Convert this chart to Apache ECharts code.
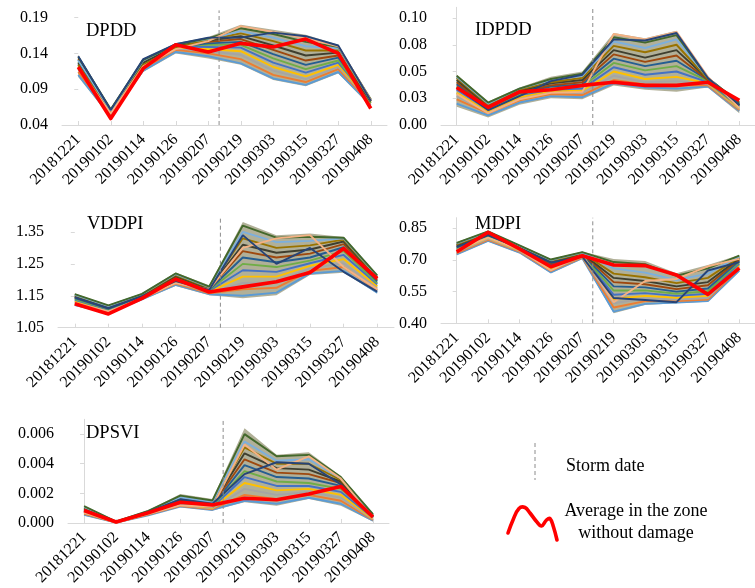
<!DOCTYPE html>
<html>
<head>
<meta charset="utf-8">
<script src="https://cdn.jsdelivr.net/npm/echarts@6/dist/echarts.min.js"></script>
<style>
  html, body { margin: 0; padding: 0; background: #fff; }
  #chart { width: 755px; height: 588px; }
</style>
</head>
<body>
<div id="chart"></div>
<script>
// Acquisition dates (Sentinel-1 time series)
const categories = ['20181221', '20190102', '20190114', '20190126', '20190207',
                    '20190219', '20190303', '20190315', '20190327', '20190408'];
// Storm of 11 Feb 2019, four days into the 12-day gap after 20190207
const stormPosition = 4 + 4 / 12;

// ---- DPDD ----
const dpddAverage = [0.121, 0.049, 0.119, 0.152, 0.142, 0.154, 0.149, 0.160, 0.140, 0.063];
const dpddLow  = [0.107, 0.050, 0.114, 0.140, 0.133, 0.124, 0.103, 0.094, 0.112, 0.066];
const dpddHigh = [0.138, 0.063, 0.133, 0.154, 0.163, 0.180, 0.173, 0.166, 0.152, 0.077];
const dpddPixels = [
  [0.110, 0.052, 0.116, 0.142, 0.136, 0.126, 0.105, 0.096, 0.114, 0.068],
  [0.114, 0.055, 0.119, 0.145, 0.140, 0.132, 0.110, 0.100, 0.118, 0.070],
  [0.118, 0.057, 0.121, 0.147, 0.143, 0.138, 0.116, 0.104, 0.121, 0.071],
  [0.122, 0.058, 0.123, 0.148, 0.146, 0.143, 0.121, 0.108, 0.124, 0.072],
  [0.125, 0.056, 0.125, 0.150, 0.149, 0.148, 0.127, 0.113, 0.127, 0.073],
  [0.128, 0.059, 0.126, 0.151, 0.152, 0.152, 0.133, 0.118, 0.130, 0.071],
  [0.131, 0.060, 0.128, 0.149, 0.154, 0.156, 0.139, 0.124, 0.134, 0.074],
  [0.133, 0.061, 0.129, 0.152, 0.156, 0.160, 0.145, 0.130, 0.137, 0.075],
  [0.127, 0.058, 0.127, 0.150, 0.158, 0.164, 0.151, 0.137, 0.141, 0.073],
  [0.124, 0.057, 0.124, 0.148, 0.159, 0.168, 0.157, 0.144, 0.144, 0.074],
  [0.130, 0.060, 0.130, 0.153, 0.160, 0.171, 0.162, 0.150, 0.147, 0.075],
  [0.135, 0.062, 0.131, 0.152, 0.161, 0.175, 0.167, 0.156, 0.149, 0.076],
  [0.120, 0.056, 0.122, 0.146, 0.157, 0.178, 0.170, 0.161, 0.150, 0.075],
  [0.136, 0.061, 0.132, 0.153, 0.162, 0.162, 0.169, 0.164, 0.151, 0.074]
];
const dpddTicks = [0.04, 0.09, 0.14, 0.19];

// ---- IDPDD ----
const idpddAverage = [0.035, 0.0165, 0.031, 0.033, 0.037, 0.040, 0.037, 0.037, 0.040, 0.023];
const idpddLow  = [0.017, 0.007, 0.019, 0.025, 0.024, 0.037, 0.033, 0.031, 0.035, 0.011];
const idpddHigh = [0.047, 0.022, 0.035, 0.045, 0.050, 0.086, 0.081, 0.088, 0.045, 0.022];
const idpddPixels = [
  [0.020, 0.009, 0.021, 0.027, 0.026, 0.039, 0.035, 0.034, 0.036, 0.013],
  [0.024, 0.011, 0.023, 0.029, 0.028, 0.042, 0.038, 0.037, 0.037, 0.014],
  [0.027, 0.012, 0.025, 0.031, 0.030, 0.046, 0.040, 0.041, 0.038, 0.015],
  [0.030, 0.013, 0.026, 0.032, 0.032, 0.050, 0.043, 0.045, 0.039, 0.016],
  [0.033, 0.014, 0.028, 0.033, 0.034, 0.054, 0.047, 0.050, 0.040, 0.017],
  [0.036, 0.015, 0.029, 0.034, 0.036, 0.058, 0.051, 0.055, 0.041, 0.018],
  [0.038, 0.016, 0.030, 0.036, 0.038, 0.062, 0.055, 0.060, 0.042, 0.018],
  [0.040, 0.017, 0.031, 0.037, 0.040, 0.066, 0.059, 0.065, 0.042, 0.019],
  [0.042, 0.018, 0.032, 0.039, 0.042, 0.070, 0.063, 0.070, 0.043, 0.019],
  [0.044, 0.019, 0.033, 0.040, 0.044, 0.074, 0.068, 0.075, 0.043, 0.020],
  [0.045, 0.020, 0.034, 0.042, 0.046, 0.078, 0.072, 0.080, 0.044, 0.020],
  [0.046, 0.021, 0.034, 0.043, 0.048, 0.082, 0.077, 0.084, 0.044, 0.021],
  [0.029, 0.011, 0.024, 0.030, 0.031, 0.085, 0.080, 0.087, 0.045, 0.016],
  [0.035, 0.014, 0.027, 0.041, 0.047, 0.080, 0.079, 0.086, 0.044, 0.019]
];
const idpddTicks = [0, 0.025, 0.05, 0.075, 0.10];

// ---- VDDPI ----
const vddpiAverage = [1.125, 1.093, 1.142, 1.202, 1.162, 1.178, 1.194, 1.223, 1.298, 1.204];
const vddpiLow  = [1.119, 1.093, 1.137, 1.181, 1.152, 1.142, 1.152, 1.215, 1.222, 1.157];
const vddpiHigh = [1.157, 1.121, 1.157, 1.223, 1.183, 1.381, 1.340, 1.345, 1.334, 1.215];
const vddpiPixels = [
  [1.121, 1.096, 1.139, 1.184, 1.155, 1.150, 1.160, 1.220, 1.228, 1.160],
  [1.126, 1.099, 1.141, 1.188, 1.158, 1.170, 1.175, 1.228, 1.240, 1.168],
  [1.130, 1.102, 1.143, 1.192, 1.160, 1.190, 1.192, 1.236, 1.252, 1.175],
  [1.134, 1.104, 1.145, 1.195, 1.163, 1.210, 1.210, 1.244, 1.265, 1.180],
  [1.137, 1.106, 1.147, 1.198, 1.165, 1.230, 1.225, 1.252, 1.278, 1.186],
  [1.140, 1.108, 1.148, 1.202, 1.167, 1.250, 1.240, 1.260, 1.290, 1.190],
  [1.143, 1.110, 1.150, 1.205, 1.169, 1.270, 1.255, 1.270, 1.302, 1.195],
  [1.146, 1.112, 1.151, 1.208, 1.171, 1.290, 1.270, 1.282, 1.312, 1.200],
  [1.148, 1.114, 1.152, 1.212, 1.173, 1.310, 1.285, 1.295, 1.320, 1.205],
  [1.151, 1.116, 1.153, 1.215, 1.175, 1.330, 1.300, 1.308, 1.326, 1.208],
  [1.153, 1.118, 1.155, 1.218, 1.177, 1.350, 1.318, 1.322, 1.330, 1.212],
  [1.155, 1.120, 1.156, 1.220, 1.179, 1.370, 1.332, 1.335, 1.332, 1.214],
  [1.128, 1.101, 1.142, 1.190, 1.170, 1.300, 1.330, 1.340, 1.240, 1.170],
  [1.145, 1.111, 1.149, 1.196, 1.168, 1.340, 1.250, 1.300, 1.225, 1.163]
];
const vddpiTicks = [1.05, 1.15, 1.25, 1.35];

// ---- MDPI ----
const mdpiAverage = [0.739, 0.831, 0.752, 0.668, 0.720, 0.676, 0.673, 0.629, 0.537, 0.661];
const mdpiLow  = [0.723, 0.787, 0.732, 0.637, 0.705, 0.447, 0.487, 0.495, 0.502, 0.644];
const mdpiHigh = [0.784, 0.838, 0.771, 0.705, 0.739, 0.705, 0.695, 0.637, 0.676, 0.723];
const mdpiPixels = [
  [0.726, 0.790, 0.735, 0.641, 0.708, 0.455, 0.492, 0.498, 0.505, 0.650],
  [0.732, 0.795, 0.739, 0.648, 0.711, 0.475, 0.505, 0.505, 0.512, 0.660],
  [0.738, 0.800, 0.743, 0.654, 0.714, 0.495, 0.518, 0.513, 0.520, 0.668],
  [0.744, 0.804, 0.747, 0.660, 0.717, 0.515, 0.530, 0.521, 0.530, 0.676],
  [0.750, 0.808, 0.751, 0.666, 0.720, 0.535, 0.543, 0.530, 0.540, 0.683],
  [0.755, 0.812, 0.754, 0.672, 0.723, 0.555, 0.556, 0.540, 0.552, 0.690],
  [0.760, 0.816, 0.757, 0.678, 0.726, 0.575, 0.570, 0.550, 0.565, 0.696],
  [0.765, 0.820, 0.760, 0.684, 0.729, 0.595, 0.585, 0.562, 0.580, 0.702],
  [0.770, 0.824, 0.763, 0.690, 0.731, 0.615, 0.600, 0.575, 0.595, 0.708],
  [0.774, 0.828, 0.765, 0.695, 0.733, 0.635, 0.618, 0.590, 0.615, 0.713],
  [0.778, 0.832, 0.767, 0.699, 0.735, 0.660, 0.640, 0.605, 0.635, 0.717],
  [0.781, 0.835, 0.769, 0.702, 0.737, 0.690, 0.680, 0.625, 0.660, 0.720],
  [0.747, 0.806, 0.749, 0.650, 0.725, 0.500, 0.600, 0.610, 0.670, 0.705],
  [0.762, 0.818, 0.756, 0.688, 0.716, 0.520, 0.510, 0.500, 0.650, 0.690]
];
const mdpiTicks = [0.40, 0.55, 0.70, 0.85];

// ---- DPSVI ----
const dpsviAverage = [0.00084, 0.00007, 0.00069, 0.0014, 0.00122, 0.00167, 0.00157, 0.00195, 0.00247, 0.0004];
const dpsviLow  = [0.0005, 0.0, 0.0005, 0.00107, 0.00084, 0.0014, 0.00117, 0.00162, 0.00117, 0.0001];
const dpsviHigh = [0.00117, 0.0001, 0.00084, 0.00195, 0.00162, 0.0064, 0.0046, 0.00477, 0.00317, 0.00062];
const dpsviPixels = [
  [0.00055, 0.00002, 0.00052, 0.0011, 0.00088, 0.0015, 0.0013, 0.0017, 0.0013, 0.00015],
  [0.00062, 0.00003, 0.00056, 0.00115, 0.00093, 0.0019, 0.0016, 0.0019, 0.0015, 0.0002],
  [0.00068, 0.00004, 0.0006, 0.0012, 0.00098, 0.0023, 0.0019, 0.0021, 0.0017, 0.00025],
  [0.00073, 0.00005, 0.00063, 0.00125, 0.00103, 0.0027, 0.0022, 0.0023, 0.0019, 0.0003],
  [0.00078, 0.00005, 0.00066, 0.0013, 0.00108, 0.0031, 0.0025, 0.0025, 0.0021, 0.00035],
  [0.00083, 0.00006, 0.00069, 0.00135, 0.00113, 0.0035, 0.0028, 0.0027, 0.0023, 0.0004],
  [0.00088, 0.00006, 0.00071, 0.0014, 0.00118, 0.0039, 0.0031, 0.0030, 0.0025, 0.00043],
  [0.00093, 0.00007, 0.00073, 0.00147, 0.00123, 0.0043, 0.0034, 0.0033, 0.0027, 0.00046],
  [0.00098, 0.00008, 0.00076, 0.00155, 0.00128, 0.0047, 0.0037, 0.0036, 0.0028, 0.0005],
  [0.00103, 0.00008, 0.00078, 0.00163, 0.00134, 0.0051, 0.0040, 0.0040, 0.0029, 0.00053],
  [0.00108, 0.00009, 0.0008, 0.00172, 0.0014, 0.0055, 0.0042, 0.0043, 0.0030, 0.00056],
  [0.00113, 0.0001, 0.00082, 0.00185, 0.00152, 0.0060, 0.0045, 0.0046, 0.0031, 0.0006],
  [0.0007, 0.00004, 0.00062, 0.0012, 0.0011, 0.0053, 0.0036, 0.0045, 0.0030, 0.0003],
  [0.0009, 0.00007, 0.00074, 0.0016, 0.0013, 0.0033, 0.0041, 0.0040, 0.0026, 0.0004]
];
const dpsviTicks = [0, 0.002, 0.004, 0.006];

// Panel layout and axis ranges
const panels = [
  { name: 'DPDD',  avg: dpddAverage,  low: dpddLow,  high: dpddHigh,  pixels: dpddPixels,  ticks: dpddTicks,
    min: 0.04, max: 0.20, digits: 2, grid: { left: 62, top: 10.4, width: 325, height: 114.6 },
    showYLine: false, label: [86, 31.5] },
  { name: 'IDPDD', avg: idpddAverage, low: idpddLow, high: idpddHigh, pixels: idpddPixels, ticks: idpddTicks,
    min: 0, max: 0.11, digits: 2, grid: { left: 441, top: 7.3, width: 326, height: 117.7 },
    showYLine: true, label: [475, 30] },
  { name: 'VDDPI', avg: vddpiAverage, low: vddpiLow, high: vddpiHigh, pixels: vddpiPixels, ticks: vddpiTicks,
    min: 1.05, max: 1.40, digits: 2, grid: { left: 58, top: 216, width: 336, height: 111.7 },
    showYLine: false, label: [87, 224] },
  { name: 'MDPI',  avg: mdpiAverage,  low: mdpiLow,  high: mdpiHigh,  pixels: mdpiPixels,  ticks: mdpiTicks,
    min: 0.40, max: 0.90, digits: 2, grid: { left: 441, top: 217.7, width: 326, height: 105.6 },
    showYLine: true, label: [475, 224] },
  { name: 'DPSVI', avg: dpsviAverage, low: dpsviLow, high: dpsviHigh, pixels: dpsviPixels, ticks: dpsviTicks,
    min: 0, max: 0.007, digits: 3, grid: { left: 68, top: 419.3, width: 321, height: 105 },
    showYLine: true, label: [86, 433] }
];

// Office-style palette used for the individual pixel profiles
const pixelColors = ['#5B9BD5', '#ED7D31', '#A5A5A5', '#FFC000', '#4472C4', '#70AD47',
                     '#255E91', '#9E480E', '#3F3F2F', '#997300', '#7CAFDD', '#43682B',
                     '#F4B183', '#264478'];

const FONT = 'Liberation Serif';
const grids = [], xAxes = [], yAxes = [], series = [], graphics = [];

panels.forEach((p, i) => {
  grids.push(Object.assign({ containLabel: false }, p.grid));

  // category axis with the acquisition dates
  xAxes.push({
    type: 'category', gridIndex: i, data: categories, boundaryGap: true,
    axisLine: { lineStyle: { color: '#D9D9D9', width: 1 } },
    axisTick: { show: true, alignWithLabel: true, inside: true, length: 4, lineStyle: { color: '#D9D9D9' } },
    axisLabel: { interval: 0, rotate: 45, margin: 12, fontFamily: FONT, fontSize: 16, color: '#000' },
    splitLine: { show: false }
  });
  // hidden continuous axis aligned with category centres, for the storm date
  xAxes.push({
    type: 'value', gridIndex: i, min: -0.5, max: 9.5, show: false
  });

  yAxes.push({
    type: 'value', gridIndex: i, min: p.min, max: p.max,
    axisLine: { show: p.showYLine, lineStyle: { color: '#D9D9D9' } },
    axisTick: { show: true, customValues: p.ticks, length: 4, lineStyle: { color: '#D9D9D9' } },
    axisLabel: {
      customValues: p.ticks, margin: 14, fontFamily: FONT, fontSize: 16, color: '#000',
      formatter: v => (Math.round(v * Math.pow(10, p.digits)) / Math.pow(10, p.digits)).toFixed(p.digits)
    },
    splitLine: { show: false }
  });

  const catX = i * 2, valX = i * 2 + 1;

  // envelope of all pixel profiles
  series.push({
    type: 'line', xAxisIndex: catX, yAxisIndex: i, stack: 'env' + i, data: p.low,
    symbol: 'none', lineStyle: { width: 0, opacity: 0 }, silent: true, z: 1
  });
  series.push({
    type: 'line', xAxisIndex: catX, yAxisIndex: i, stack: 'env' + i,
    data: p.high.map((h, k) => h - p.low[k]),
    symbol: 'none', lineStyle: { width: 0, opacity: 0 },
    areaStyle: { color: '#9E9C7E', opacity: 0.8 }, silent: true, z: 1
  });

  // individual pixel profiles
  p.pixels.forEach((row, k) => {
    series.push({
      type: 'line', xAxisIndex: catX, yAxisIndex: i, data: row, symbol: 'none',
      lineStyle: { width: 1.9, color: pixelColors[k % pixelColors.length] }, silent: true, z: 2
    });
  });

  // storm date
  series.push({
    type: 'line', xAxisIndex: valX, yAxisIndex: i,
    data: [[stormPosition, p.min], [stormPosition, p.max]],
    symbol: 'none', lineStyle: { width: 1, color: '#8C8C8C', type: [4, 3] }, silent: true, z: 3
  });

  // average in the zone without damage
  series.push({
    type: 'line', xAxisIndex: catX, yAxisIndex: i, data: p.avg, symbol: 'none',
    lineStyle: { width: 3.6, color: '#FF0000', join: 'round' }, silent: true, z: 4
  });

  graphics.push({
    type: 'text', x: p.label[0], y: p.label[1], z: 10,
    style: { text: p.name, fontFamily: FONT, fontSize: 18.5, fill: '#000', verticalAlign: 'middle' }
  });
});

// legend block
graphics.push({
  type: 'line', z: 10,
  shape: { x1: 535, y1: 443, x2: 535, y2: 480 },
  style: { stroke: '#8C8C8C', lineWidth: 1, lineDash: [4, 3] }
});
graphics.push({
  type: 'text', x: 566, y: 466, z: 10,
  style: { text: 'Storm date', fontFamily: FONT, fontSize: 18, fill: '#000', verticalAlign: 'middle' }
});
graphics.push({
  type: 'polyline', z: 10,
  shape: {
    points: [[508, 533], [513, 520], [519, 508.5], [525, 507.5], [530, 513], [536.5, 521.5],
             [541.5, 526], [546.5, 520], [550, 518.5], [553.5, 527], [557, 540]],
    smooth: 0.4
  },
  style: { stroke: '#FF0000', lineWidth: 3.6, fill: null, lineCap: 'round', lineJoin: 'round' }
});
graphics.push({
  type: 'text', x: 636, y: 511, z: 10,
  style: { text: 'Average in the zone', fontFamily: FONT, fontSize: 18, fill: '#000',
           align: 'center', verticalAlign: 'middle' }
});
graphics.push({
  type: 'text', x: 636, y: 533, z: 10,
  style: { text: 'without damage', fontFamily: FONT, fontSize: 18, fill: '#000',
           align: 'center', verticalAlign: 'middle' }
});

const chart = echarts.init(document.getElementById('chart'), null, { renderer: 'canvas' });
chart.setOption({
  animation: false,
  backgroundColor: '#fff',
  grid: grids,
  xAxis: xAxes,
  yAxis: yAxes,
  series: series,
  graphic: graphics
});
</script>
</body>
</html>
